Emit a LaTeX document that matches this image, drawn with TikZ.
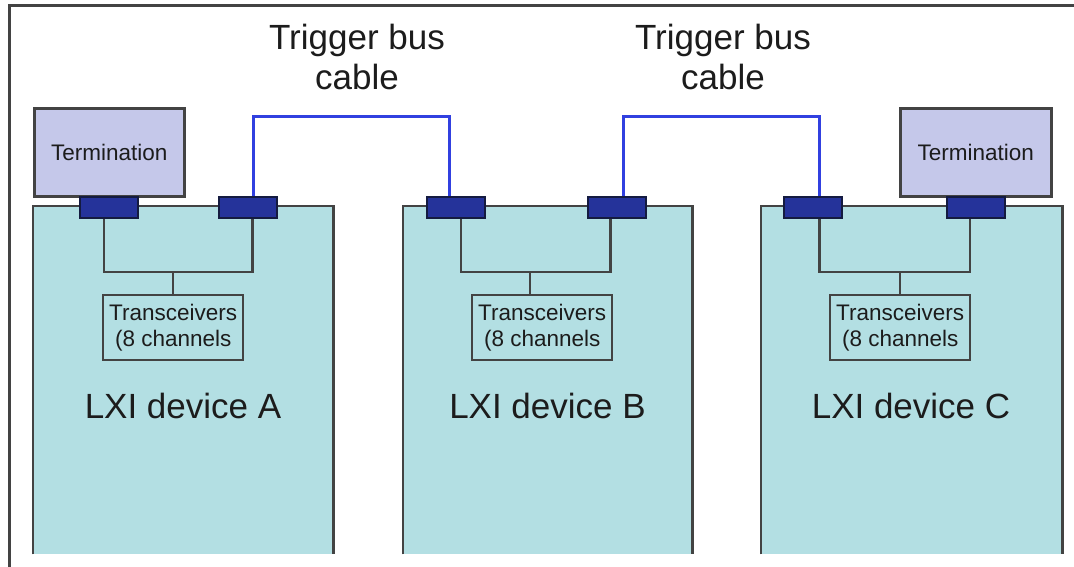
\documentclass[tikz,border=0pt]{standalone}
\usepackage{fontspec}
\setmainfont{Liberation Sans}
\definecolor{devfill}{HTML}{B3DFE3}
\definecolor{termfill}{HTML}{C5C8EA}
\definecolor{connfill}{HTML}{25339A}
\definecolor{connline}{HTML}{141B40}
\definecolor{cablecol}{HTML}{3140E0}
\definecolor{edgecol}{HTML}{434343}
\definecolor{txtcol}{HTML}{1C1C1C}
\begin{document}
\begin{tikzpicture}[x=1pt,y=-1pt,
  devbox/.style={fill=devfill, draw=none, minimum height=348pt, anchor=north west, inner sep=0pt},
  devline/.style={draw=edgecol, line width=2.8pt},
  termbox/.style={fill=termfill, draw=edgecol, line width=2.6pt, minimum height=88pt, anchor=north west, inner sep=0pt, text=txtcol, font=\fontsize{22.5}{26}\selectfont},
  connbox/.style={fill=connfill, draw=connline, line width=1.8pt, minimum width=58pt, minimum height=21pt, anchor=north west, inner sep=0pt},
  trxbox/.style={draw=edgecol, line width=2.4pt, minimum width=140pt, minimum height=65pt, anchor=north west, inner sep=0pt, align=center, text=txtcol, font=\fontsize{22.5}{26.5}\selectfont},
  wire/.style={draw=edgecol, line width=2.4pt},
  cable/.style={draw=cablecol, line width=3pt},
  devlabel/.style={text=txtcol, font=\fontsize{35}{40}\selectfont, inner sep=0pt},
  cablelabel/.style={text=txtcol, font=\fontsize{35}{40}\selectfont, align=center, inner sep=0pt},
  framefix/.style={draw=edgecol, line width=3pt}
]
\useasboundingbox (0,0) rectangle (1074,567);
\fill[white] (0,0) rectangle (1074,567);
% frame
\draw[framefix] (9,567) -- (9,6) -- (1074,6);

% devices
\node[devbox, minimum width=300pt] (dA) at (33,206) {};
\node[devbox, minimum width=289pt] (dB) at (403,206) {};
\node[devbox, minimum width=301pt] (dC) at (761,206) {};
\foreach \d in {dA,dB,dC}
  \draw[devline] (\d.south west) -- (\d.north west) -- (\d.north east) -- (\d.south east);

% terminations
\node[termbox, minimum width=150pt] (tmA) at (33,107) {Termination};
\node[termbox, minimum width=151pt] (tmC) at (899,107) {Termination};

% cables labels
\node[cablelabel] (tb1) at (357,57) {Trigger bus\\cable};
\node[cablelabel] (tb2) at (723,57) {Trigger bus\\cable};

% connectors
\node[connbox] (cA1) at (79,196) {};
\node[connbox] (cA2) at (218,196) {};
\node[connbox] (cB1) at (426,196) {};
\node[connbox] (cB2) at (587,196) {};
\node[connbox] (cC1) at (783,196) {};
\node[connbox] (cC2) at (946,196) {};

% cables
\draw[cable] ([xshift=5.5pt]cA2.north) -- ++(0,-79) -| ([xshift=-6pt]cB1.north);
\draw[cable] ([xshift=6.5pt]cB2.north) -- ++(0,-79) -| ([xshift=6.5pt]cC1.north);

% transceivers
\node[trxbox] (xA) at (102,294) {Transceivers\\(8 channels};
\node[trxbox] (xB) at (471,294) {Transceivers\\(8 channels};
\node[trxbox] (xC) at (829,294) {Transceivers\\(8 channels};

% internal wiring
\coordinate (jA) at (173,272);
\coordinate (jB) at (530,272);
\coordinate (jC) at (900,272);
\draw[wire] ([xshift=-5pt]cA1.south) |- (jA) -| ([xshift=4.5pt]cA2.south);
\draw[wire] (jA) -- (jA |- xA.north);
\draw[wire] ([xshift=5pt]cB1.south) |- (jB) -| ([xshift=-6.5pt]cB2.south);
\draw[wire] (jB) -- (jB |- xB.north);
\draw[wire] ([xshift=6.5pt]cC1.south) |- (jC) -| ([xshift=-6pt]cC2.south);
\draw[wire] (jC) -- (jC |- xC.north);

% device labels
\node[devlabel] (lA) at (183,406) {LXI device A};
\node[devlabel] (lB) at (547.5,406) {LXI device B};
\node[devlabel] (lC) at (911,406) {LXI device C};
\end{tikzpicture}
\end{document}
